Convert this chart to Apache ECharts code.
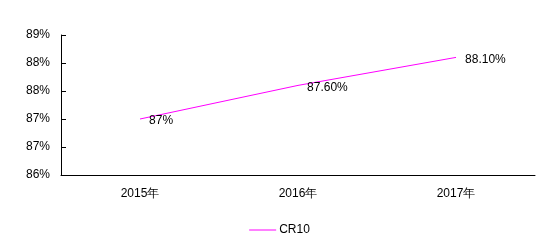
<!DOCTYPE html>
<html>
<head>
<meta charset="utf-8">
<script src="https://cdn.jsdelivr.net/npm/echarts@6/dist/echarts.min.js"></script>
<style>
  html, body { margin: 0; padding: 0; background: #fff; }
  #chart { width: 559px; height: 241px; }
</style>
</head>
<body>
<div id="chart"></div>
<script>
// 数据
const years = ['2015年', '2016年', '2017年'];
const cr10 = [87.0, 87.6, 88.1];
const cr10Labels = ['87%', '87.60%', '88.10%'];

const chart = echarts.init(document.getElementById('chart'));
const font = 'Liberation Sans, Arial, sans-serif';

const option = {
    animation: false,
    backgroundColor: '#ffffff',
    grid: {
        left: 61,
        right: 24,
        top: 35,
        bottom: 66
    },
    xAxis: {
        type: 'category',
        data: years,
        boundaryGap: true,
        axisLine: { lineStyle: { color: '#000', width: 1 } },
        axisTick: { inside: true, length: 5, lineStyle: { color: '#000' } },
        axisLabel: { color: '#000', fontSize: 12, fontFamily: font, margin: 13 },
        splitLine: { show: false }
    },
    yAxis: {
        type: 'value',
        min: 86,
        max: 88.5,
        interval: 0.5,
        axisLine: { show: true, lineStyle: { color: '#000', width: 1 } },
        axisTick: { show: true, inside: true, length: 5, lineStyle: { color: '#000' } },
        axisLabel: {
            color: '#000',
            fontSize: 12,
            fontFamily: font,
            margin: 11,
            formatter: v => Math.round(v) + '%'
        },
        splitLine: { show: false }
    },
    legend: {
        bottom: 0,
        left: 'center',
        icon: 'rect',
        itemWidth: 27,
        itemHeight: 1,
        itemGap: 10,
        itemStyle: { color: '#ff00ff', opacity: 1 },
        textStyle: { color: '#000', fontSize: 12, fontFamily: font, padding: [0, 0, 0, -2] },
        data: ['CR10']
    },
    series: [{
        name: 'CR10',
        type: 'line',
        data: cr10,
        symbol: 'circle',
        symbolSize: 0.1,
        showSymbol: true,
        lineStyle: { color: '#ff00ff', width: 1 },
        itemStyle: { color: '#ff00ff' },
        label: {
            show: true,
            position: 'right',
            distance: 9,
            offset: [0, 2],
            color: '#000',
            fontSize: 12,
            fontFamily: font,
            formatter: p => cr10Labels[p.dataIndex]
        }
    }]
};
chart.setOption(option);
</script>
</body>
</html>
